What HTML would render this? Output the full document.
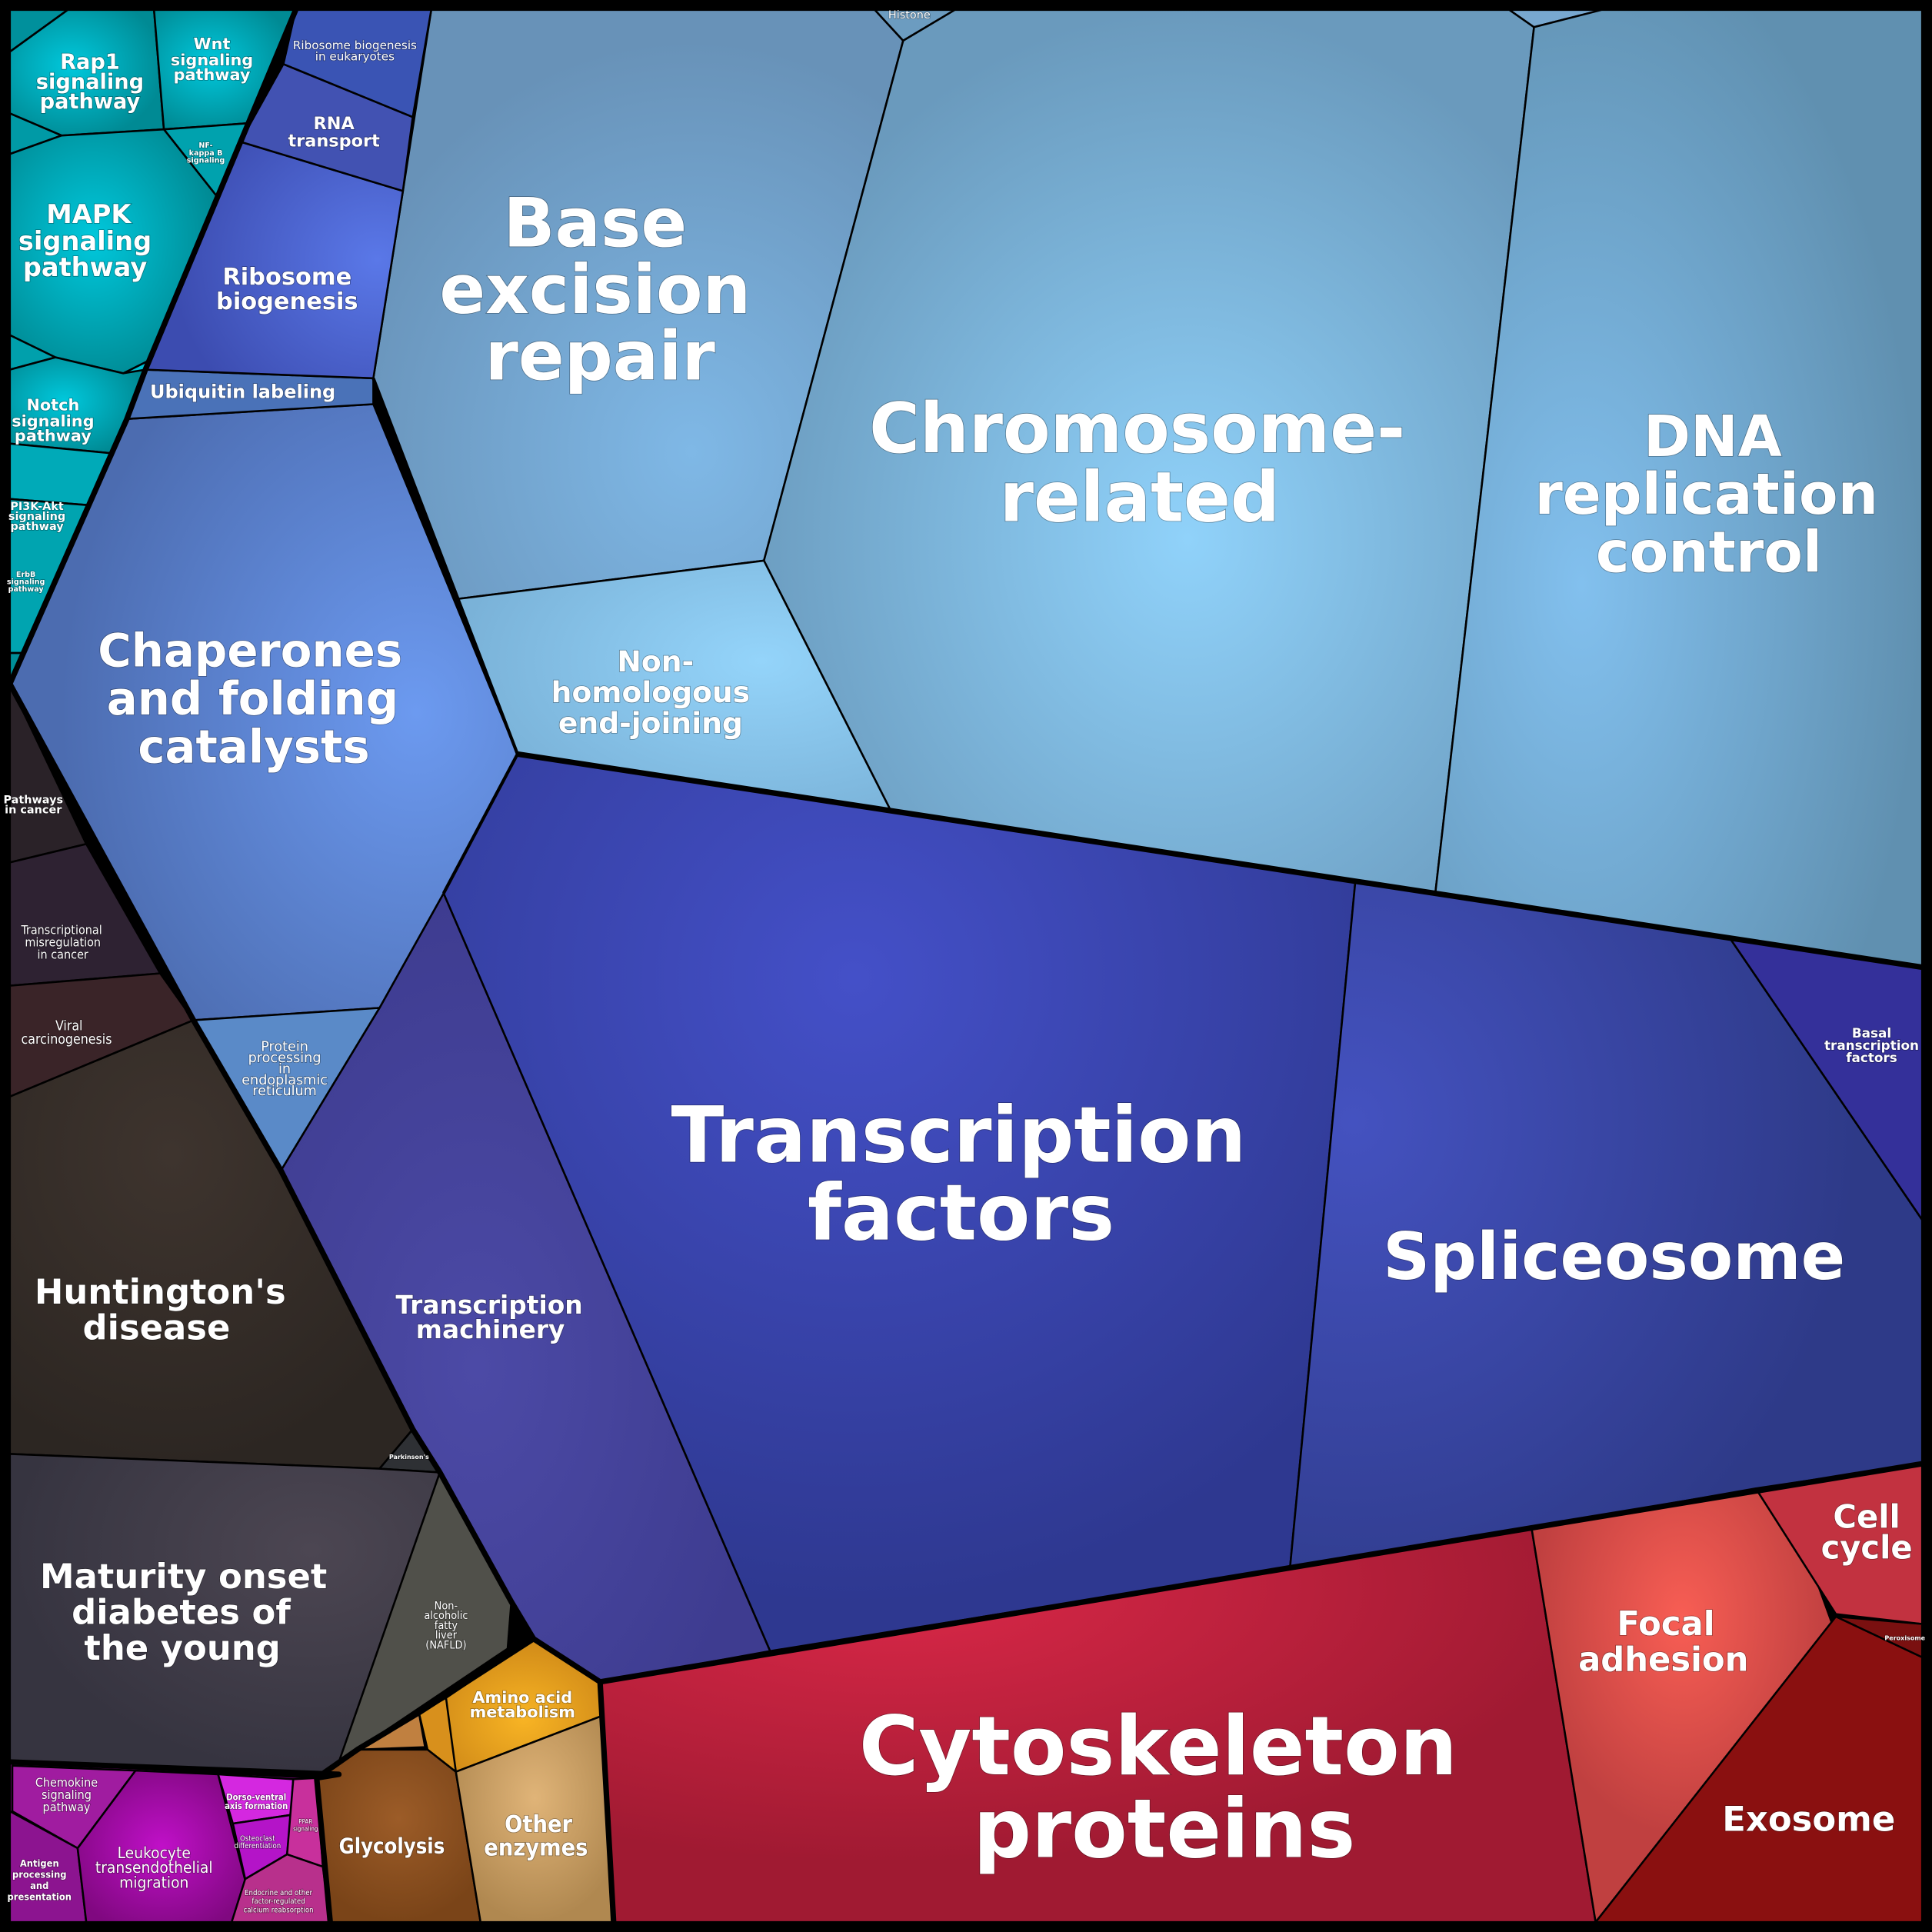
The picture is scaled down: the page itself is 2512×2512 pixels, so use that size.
<!DOCTYPE html>
<html><head><meta charset="utf-8"><style>
html,body{margin:0;padding:0;background:#000;}
svg{display:block;}
text{font-family:"DejaVu Sans","Liberation Sans",sans-serif;font-weight:bold;fill:#fff;text-anchor:middle;paint-order:stroke;stroke:rgba(0,0,0,0.35);}
.c{font-family:"DejaVu Sans Condensed","DejaVu Sans","Liberation Sans",sans-serif;}
polygon{stroke:#000;stroke-width:1.6;stroke-linejoin:round;}
</style></head><body>
<svg width="2512" height="2512" viewBox="0 0 1568 1568" xmlns="http://www.w3.org/2000/svg">
<defs>
<radialGradient id="gBase" cx="0.6" cy="0.75" r="0.7"><stop offset="0" stop-color="#7fb8e6"/><stop offset="1" stop-color="#6892b8"/></radialGradient>
<radialGradient id="gChr" cx="0.55" cy="0.6" r="0.6"><stop offset="0" stop-color="#90d2fa"/><stop offset="1" stop-color="#6a9abd"/></radialGradient>
<radialGradient id="gDNA" cx="0.3" cy="0.6" r="0.7"><stop offset="0" stop-color="#82c0ee"/><stop offset="1" stop-color="#6090b0"/></radialGradient>
<radialGradient id="gNon" cx="0.7" cy="0.4" r="0.7"><stop offset="0" stop-color="#94d4fa"/><stop offset="1" stop-color="#7ab2d8"/></radialGradient>
<radialGradient id="gTF" cx="0.45" cy="0.25" r="0.7"><stop offset="0" stop-color="#4450c8"/><stop offset="1" stop-color="#2e3890"/></radialGradient>
<radialGradient id="gSpl" cx="0.1" cy="0.35" r="0.8"><stop offset="0" stop-color="#4452c0"/><stop offset="1" stop-color="#2e3a88"/></radialGradient>
<radialGradient id="gTM" cx="0.4" cy="0.6" r="0.6"><stop offset="0" stop-color="#4c4aa6"/><stop offset="1" stop-color="#3e3c90"/></radialGradient>
<radialGradient id="gCh" cx="0.8" cy="0.5" r="0.7"><stop offset="0" stop-color="#6c9af0"/><stop offset="1" stop-color="#4c6cb0"/></radialGradient>
<radialGradient id="gRib" cx="0.9" cy="0.5" r="0.8"><stop offset="0" stop-color="#5a78e8"/><stop offset="1" stop-color="#3c4cb0"/></radialGradient>
<radialGradient id="gTeal" cx="0.4" cy="0.45" r="0.6"><stop offset="0" stop-color="#00c8dc"/><stop offset="1" stop-color="#008a94"/></radialGradient>
<radialGradient id="gHun" cx="0.4" cy="0.3" r="0.7"><stop offset="0" stop-color="#3e342e"/><stop offset="1" stop-color="#2c2622"/></radialGradient>
<radialGradient id="gMod" cx="0.7" cy="0.3" r="0.7"><stop offset="0" stop-color="#4c4652"/><stop offset="1" stop-color="#363440"/></radialGradient>
<radialGradient id="gCyt" cx="0.3" cy="0.15" r="0.7"><stop offset="0" stop-color="#da2848"/><stop offset="1" stop-color="#a01a32"/></radialGradient>
<radialGradient id="gFoc" cx="0.5" cy="0.3" r="0.5"><stop offset="0" stop-color="#f85e54"/><stop offset="1" stop-color="#c04040"/></radialGradient>
<radialGradient id="gMag" cx="0.5" cy="0.5" r="0.6"><stop offset="0" stop-color="#c010c8"/><stop offset="1" stop-color="#800880"/></radialGradient>
<radialGradient id="gGly" cx="0.5" cy="0.4" r="0.6"><stop offset="0" stop-color="#9c5c28"/><stop offset="1" stop-color="#7a4418"/></radialGradient>
<radialGradient id="gOth" cx="0.5" cy="0.4" r="0.6"><stop offset="0" stop-color="#e0b478"/><stop offset="1" stop-color="#b08850"/></radialGradient>
<radialGradient id="gAmi" cx="0.5" cy="0.6" r="0.6"><stop offset="0" stop-color="#f8b424"/><stop offset="1" stop-color="#d08a18"/></radialGradient>
</defs>
<rect width="1568" height="1568" fill="#000"/>
<polygon fill="url(#gBase)" points="350,8 710,8 733,33 620,455 372,486 303,307 327,155"/>
<polygon fill="#6c9cc0" points="710,8 775,8 733,33"/>
<polygon fill="url(#gChr)" points="733,33 775,8 1225,8 1245,22 1165,724 1100,715 723,658 620,455"/>
<polygon fill="#78a8d0" points="1225,8 1300,8 1245,22"/>
<polygon fill="url(#gDNA)" points="1245,22 1300,8 1560,8 1560,785 1403,760 1165,724"/>
<polygon fill="url(#gNon)" points="372,486 620,455 723,658 420,612"/>
<polygon fill="url(#gTF)" points="420,612 723,658 1100,715 1047,1272 625,1340 360,725"/>
<polygon fill="url(#gSpl)" points="1100,715 1403,760 1560,990 1560,1188 1243,1240 1047,1272"/>
<polygon fill="#34309a" points="1403,760 1560,785 1560,990"/>
<polygon fill="url(#gTM)" points="360,725 625,1340 487,1365 433,1330 415,1300 357,1195 335,1160 228,950 308,818"/>
<polygon fill="url(#gCh)" points="8,555 103,340 303,328 420,612 360,725 308,818 157,828"/>
<polygon fill="#5a8ac8" points="157,828 308,818 228,950"/>
<polygon fill="#4a72b8" points="103,300 118,300 303,307 303,328 103,340"/>
<polygon fill="url(#gRib)" points="118,300 195,115 327,155 303,307"/>
<polygon fill="#4252b2" points="195,115 230,52 335,95 327,155"/>
<polygon fill="#3a54b4" points="240,8 350,8 335,95 230,52"/>
<!-- teal -->
<polygon fill="url(#gTeal)" points="8,8 240,8 118,300 103,340 8,555"/>
<polygon fill="#00909c" points="8,8 55,8 8,42"/>
<polygon fill="url(#gTeal)" points="8,42 55,8 125,8 133,105 50,110 8,92"/>
<polygon fill="url(#gTeal)" points="125,8 240,8 201.6,100 133,105"/>
<polygon fill="#009aa6" points="8,92 50,110 8,125"/>
<polygon fill="#00a2ae" points="133,105 201.6,100 176.5,160"/>
<polygon fill="url(#gTeal)" points="8,125 50,110 133,105 176.5,160 122,292 100,303 45,290 8,272"/>
<polygon fill="#00a0ac" points="8,272 45,290 8,300"/>
<polygon fill="url(#gTeal)" points="8,300 45,290 100,303 118,300 103,340 92,368 8,360"/>
<polygon fill="#00aab8" points="8,360 92,368 72,410 8,405"/>
<polygon fill="#00a4b0" points="8,405 72,410 19,530 8,530"/>
<polygon fill="#008e98" points="8,530 19,530 8,555"/>
<!-- dark -->
<polygon fill="#2a2228" points="8,555 70,685 8,700"/>
<polygon fill="#2e2232" points="8,700 70,685 130,790 8,800"/>
<polygon fill="#3a2428" points="8,800 130,790 157,828 8,890"/>
<polygon fill="url(#gHun)" points="8,890 157,828 228,950 335,1160 308,1192 8,1180"/>
<polygon fill="#2e3034" points="308,1192 335,1160 357,1195"/>
<polygon fill="url(#gMod)" points="8,1180 308,1192 357,1195 275,1440 8,1430"/>
<polygon fill="#50504a" points="357,1195 415,1300 412,1338 275,1430"/>
<!-- magenta -->
<polygon fill="url(#gMag)" points="8,1430 257,1443 268,1560 8,1560"/>
<polygon fill="#a01ca0" points="10,1433 110,1437 63,1500 10,1470"/>
<polygon fill="#8c1490" points="8,1470 63,1500 70,1560 8,1560"/>
<polygon fill="url(#gMag)" points="110,1437 177,1440 200,1530 188,1560 70,1560 63,1500"/>
<polygon fill="#d428e0" points="177,1440 238,1444 236,1473 189,1480"/>
<polygon fill="#b414c8" points="189,1480 236,1473 233,1505 199,1525"/>
<polygon fill="#c8309c" points="238,1444 257,1443 262,1515 233,1505"/>
<polygon fill="#b8308c" points="199,1525 233,1505 262,1515 268,1560 188,1560"/>
<!-- orange/brown -->
<polygon fill="url(#gAmi)" points="433,1330 487,1365 490,1392 370,1438 360,1395 362,1378"/>
<polygon fill="#c08040" points="290,1420 340,1390 345,1418"/>
<polygon fill="#d8901c" points="340,1390 362,1378 370,1438 347,1420"/>
<polygon fill="url(#gGly)" points="257,1443 290,1420 347,1420 370,1438 390,1560 268,1560"/>
<polygon fill="url(#gOth)" points="370,1438 490,1392 498,1560 390,1560"/>
<!-- reds -->
<polygon fill="url(#gCyt)" points="487,1365 1243,1240 1295,1560 498,1560"/>
<polygon fill="url(#gFoc)" points="1243,1240 1425,1208 1475,1285 1487,1318 1295,1560"/>
<polygon fill="#c23240" points="1425,1208 1560,1188 1560,1318 1490,1310"/>
<polygon fill="#8a1010" points="1490,1312 1560,1345 1560,1560 1295,1560"/>
<polygon fill="#7a1010" points="1490,1312 1560,1318 1560,1345"/>
<g fill="none" stroke="#000" stroke-width="4.5" stroke-linejoin="round">
<polyline points="240,8 118,300 103,340 8,555"/>
<polyline points="8,555 157,828 228,950 335,1160 357,1195 415,1300 433,1330"/>
<polyline points="8,1430 275,1440 257,1443 268,1560"/>
<polyline points="257,1443 290,1420 340,1390 433,1330 487,1365 498,1560"/>
<polyline points="487,1365 1243,1240 1560,1188"/>
<polyline points="420,612 1560,785"/>
</g>
<g fill="none" stroke="#000" stroke-width="2.6" stroke-linejoin="round">
<polyline points="360,725 420,612 303,307"/>
</g>
<rect x="4" y="4" width="1560" height="1560" fill="none" stroke="#000" stroke-width="8"/>
<!-- labels -->
<text font-size="55" x="483" y="200">Base</text>
<text font-size="55" x="483" y="254">excision</text>
<text font-size="55" x="487" y="308">repair</text>
<text font-size="56" x="923" y="367">Chromosome-</text>
<text font-size="56" x="925" y="423">related</text>
<text font-size="46" x="1390" y="370">DNA</text>
<text font-size="46" x="1385" y="417">replication</text>
<text font-size="46" x="1387" y="464">control</text>
<text font-size="23.5" x="532" y="545">Non-</text>
<text font-size="23.5" x="528" y="570">homologous</text>
<text font-size="23.5" x="528" y="595">end-joining</text>
<text font-size="63" x="778" y="943">Transcription</text>
<text font-size="63" x="780" y="1006">factors</text>
<text font-size="53" x="1310" y="1038">Spliceosome</text>
<text font-size="10.5" x="1519" y="842">Basal</text>
<text font-size="10.5" x="1519" y="852">transcription</text>
<text font-size="10.5" x="1519" y="862">factors</text>
<text font-size="20.5" x="397" y="1066">Transcription</text>
<text font-size="20.5" x="398" y="1086">machinery</text>
<text font-size="37" x="203" y="541">Chaperones</text>
<text font-size="37" x="205" y="580">and folding</text>
<text font-size="37" x="206" y="619">catalysts</text>
<text font-size="11" x="231" y="853" style="font-weight:normal">Protein</text>
<text font-size="11" x="231" y="862" style="font-weight:normal">processing</text>
<text font-size="11" x="231" y="871" style="font-weight:normal">in</text>
<text font-size="11" x="231" y="880" style="font-weight:normal">endoplasmic</text>
<text font-size="11" x="231" y="889" style="font-weight:normal">reticulum</text>
<text font-size="15" x="197" y="323">Ubiquitin labeling</text>
<text font-size="19" x="233" y="231">Ribosome</text>
<text font-size="19" x="233" y="251">biogenesis</text>
<text font-size="14" x="271" y="105">RNA</text>
<text font-size="14" x="271" y="119">transport</text>
<text font-size="9.5" x="288" y="40" style="font-weight:normal">Ribosome biogenesis</text>
<text font-size="9.5" x="288" y="49" style="font-weight:normal">in eukaryotes</text>
<text font-size="9" x="738" y="15" style="font-weight:normal">Histone</text>
<text font-size="17" x="73" y="56">Rap1</text>
<text font-size="17" x="73" y="72">signaling</text>
<text font-size="17" x="73" y="88">pathway</text>
<text font-size="13" x="172" y="40">Wnt</text>
<text font-size="13" x="172" y="53">signaling</text>
<text font-size="13" x="172" y="65">pathway</text>
<text font-size="21" x="72" y="181">MAPK</text>
<text font-size="21" x="69" y="203">signaling</text>
<text font-size="21" x="69" y="224">pathway</text>
<text font-size="13" x="43" y="333">Notch</text>
<text font-size="13" x="43" y="346">signaling</text>
<text font-size="13" x="43" y="358">pathway</text>
<text font-size="9" x="30" y="414">PI3K-Akt</text>
<text font-size="9" x="30" y="422">signaling</text>
<text font-size="9" x="30" y="430">pathway</text>
<text font-size="6" x="21" y="468">ErbB</text>
<text font-size="6" x="21" y="474">signaling</text>
<text font-size="6" x="21" y="480">pathway</text>
<text font-size="6" x="167" y="120">NF-</text>
<text font-size="6" x="167" y="126">kappa B</text>
<text font-size="6" x="167" y="132">signaling</text>
<text font-size="9" x="27" y="652">Pathways</text>
<text font-size="9" x="27" y="660">in cancer</text>
<text font-size="10" x="50" y="758" class="c" style="font-weight:normal">Transcriptional</text>
<text font-size="10" x="51" y="768" class="c" style="font-weight:normal">misregulation</text>
<text font-size="10" x="51" y="778" class="c" style="font-weight:normal">in cancer</text>
<text font-size="11" x="56" y="836" class="c" style="font-weight:normal">Viral</text>
<text font-size="11" x="54" y="847" class="c" style="font-weight:normal">carcinogenesis</text>
<text font-size="28" x="130" y="1058">Huntington's</text>
<text font-size="28" x="127" y="1087">disease</text>
<text font-size="5" x="332" y="1184">Parkinson's</text>
<text font-size="28" x="149" y="1289">Maturity onset</text>
<text font-size="28" x="147" y="1318">diabetes of</text>
<text font-size="28" x="148" y="1347">the young</text>
<text font-size="9" x="362" y="1306" class="c" style="font-weight:normal">Non-</text>
<text font-size="9" x="362" y="1314" class="c" style="font-weight:normal">alcoholic</text>
<text font-size="9" x="362" y="1322" class="c" style="font-weight:normal">fatty</text>
<text font-size="9" x="362" y="1330" class="c" style="font-weight:normal">liver</text>
<text font-size="9" x="362" y="1338" class="c" style="font-weight:normal">(NAFLD)</text>
<text font-size="13" x="424" y="1382">Amino acid</text>
<text font-size="13" x="424" y="1394">metabolism</text>
<text font-size="17" x="318" y="1504" class="c">Glycolysis</text>
<text font-size="19" x="437" y="1487" class="c">Other</text>
<text font-size="19" x="435" y="1506" class="c">enzymes</text>
<text font-size="10" x="54" y="1450" class="c" style="font-weight:normal">Chemokine</text>
<text font-size="10" x="54" y="1460" class="c" style="font-weight:normal">signaling</text>
<text font-size="10" x="54" y="1470" class="c" style="font-weight:normal">pathway</text>
<text font-size="8" x="32" y="1515" class="c">Antigen</text>
<text font-size="8" x="32" y="1524" class="c">processing</text>
<text font-size="8" x="32" y="1533" class="c">and</text>
<text font-size="8" x="32" y="1542" class="c">presentation</text>
<text font-size="13" x="125" y="1508" class="c" style="font-weight:normal">Leukocyte</text>
<text font-size="13" x="125" y="1520" class="c" style="font-weight:normal">transendothelial</text>
<text font-size="13" x="125" y="1532" class="c" style="font-weight:normal">migration</text>
<text font-size="7" x="208" y="1461" class="c">Dorso-ventral</text>
<text font-size="7" x="208" y="1468" class="c">axis formation</text>
<text font-size="6" x="209" y="1494" class="c" style="font-weight:normal">Osteoclast</text>
<text font-size="6" x="209" y="1500" class="c" style="font-weight:normal">differentiation</text>
<text font-size="5" x="248" y="1480" class="c" style="font-weight:normal">PPAR</text>
<text font-size="5" x="248" y="1486" class="c" style="font-weight:normal">signaling</text>
<text font-size="6" x="226" y="1538" class="c" style="font-weight:normal">Endocrine and other</text>
<text font-size="6" x="226" y="1545" class="c" style="font-weight:normal">factor-regulated</text>
<text font-size="6" x="226" y="1552" class="c" style="font-weight:normal">calcium reabsorption</text>
<text font-size="66" x="940" y="1440">Cytoskeleton</text>
<text font-size="66" x="945" y="1507">proteins</text>
<text font-size="27" x="1352" y="1327">Focal</text>
<text font-size="27" x="1350" y="1356">adhesion</text>
<text font-size="26" x="1515" y="1240">Cell</text>
<text font-size="26" x="1515" y="1265">cycle</text>
<text font-size="28" x="1468" y="1486">Exosome</text>
<text font-size="5" x="1546" y="1331">Peroxisome</text>
</svg>
</body></html>
